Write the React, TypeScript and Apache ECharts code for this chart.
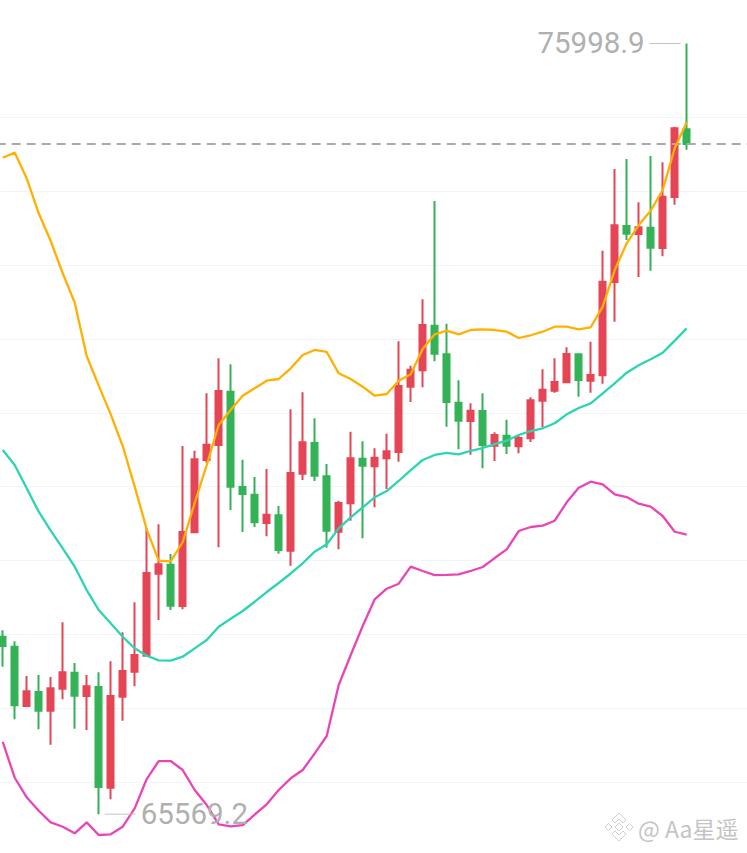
import React, { useEffect, useRef } from "react";
import * as echarts from "echarts";

// [open, close, low, high]
const candles: number[][] = [
  [67971,67845,67564,68057],[67835,67042,66853,67908],[67033,67232,67023,67438],[67222,66969,66717,67452],
  [66969,67272,66509,67425],[67267,67489,67123,68165],[67483,67172,66725,67615],[67168,67299,66708,67452],
  [67290,65936,65569.2,67489],[65927,67168,65770,67637],[67158,67506,66834,68030],[67497,67723,67299,68436],
  [67713,68832,67709,69437],[68823,68950,68196,69492],[68945,68390,68332,69090],[68386,69387,68341,70551],
  [69383,70371,69383,70488],[70362,70569,70325,71265],[70565,71296,69180,71738],[71286,70001,69685,71657],
  [69996,69902,69387,70366],[69892,69519,69455,70132],[69509,69622,69329,70240],[69613,69144,69094,69739],
  [69134,70186,68931,71048],[70176,70601,70091,71278],[70592,70149,70078,70926],[70141,69405,69175,70308],
  [69391,69780,69153,69811],[69776,70385,69540,70745],[70379,70285,69302,70615],[70277,70393,69722,70520],
  [70385,70480,69969,70718],[70470,71363,70339,71968],[71354,71584,71147,71638],[71576,72189,71346,72537],
  [72180,71800,71698,73867],[71792,71147,70813,72207],[71137,70894,70507,71440],[70890,71029,70434,71129],
  [71025,70565,70250,71265],[70555,70700,70348,70737],[70691,70555,70443,70907],[70547,70660,70452,70696],
  [70655,71170,70605,71210],[71164,71313,70804,71589],[71300,71417,71273,71738],[71413,71796,71408,71887],
  [71792,71445,71219,71792],[71435,71512,71273,71963],[71508,72775,71395,73195],[72771,73538,72234,74300],
  [73529,73425,73339,74436],[73420,73511,72839,73850],[73506,73235,72924,74476],[73231,73925,73119,74391],
  [73921,74851,73817,74873],[74838,74639,74561,75998.9],
];

const upper: number[] = [
  74453,74521,74174,73701,73326,72889,72491,71769,71368,70980,70551,70001,69424,68999,68991,69252,
  69780,70294,70836,71039,71232,71332,71435,71458,71603,71783,71851,71824,71535,71458,71354,71232,
  71255,71435,71522,71864,72063,72112,72063,72121,72131,72121,72098,72013,72050,72098,72166,72166,
  72131,72158,72437,72933,73295,73542,73736,74016,74580,74932,
];

const middle: number[] = [
  70497,70294,69979,69662,69405,69167,68918,68602,68332,68152,67970,67813,67713,67651,67646,67700,
  67813,67926,68106,68214,68318,68444,68575,68697,68826,68964,69121,69221,69437,69586,69722,69857,
  69942,70078,70226,70362,70430,70457,70439,70484,70524,70578,70623,70700,70754,70791,70859,70980,
  71066,71129,71265,71400,71543,71644,71725,71814,71977,72144,
];

const lower: number[] = [
  66549,66062,65797,65615,65458,65399,65310,65458,65287,65296,65399,65648,66044,66288,66288,66166,
  65896,65693,65431,65404,65422,65564,65702,65896,66054,66166,66392,66627,67317,67723,68115,68477,
  68620,68688,68918,68860,68805,68808,68815,68860,68914,69035,69153,69401,69455,69473,69540,69789,
  69987,70068,70033,69898,69861,69770,69730,69604,69391,69351,
];

const extremes: (number | string)[][] = [
  [57, 75998.9, "75998.9"],
  [8, 65569.2, "65569.2"],
];

const lastPrice = 74639;
const emptySlots = 5;
const categories: string[] = Array.from({ length: candles.length + emptySlots }, (_, i) => String(i));
const watermark = "@ Aa星遥";

const logoPath =
  "M14 0L21 7L18 10L14 6L10 10L7 7ZM14 28L21 21L18 18L14 22L10 18L7 21ZM0 14L3.5 10.5L7 14L3.5 17.5ZM28 14L24.5 10.5L21 14L24.5 17.5ZM14 10L18 14L14 18L10 14Z";

echarts.graphic.registerShape("logo", echarts.graphic.extendPath(logoPath, {}));

const LABEL_FONT = "Roboto, 'Noto Sans', sans-serif";
const PAD = 10; // the chart canvas overhangs the visible frame by this much on every side

function lineSeries(name: string, data: number[], color: string) {
  return {
    name,
    type: "line",
    data,
    showSymbol: false,
    smooth: false,
    silent: true,
    z: 5,
    lineStyle: { color, width: 2.3 },
  };
}

export default function App() {
  const ref = useRef<HTMLDivElement>(null);

  useEffect(() => {
    document.body.style.margin = "0";
    const chart = echarts.init(ref.current!, null, { renderer: "svg" });
    chart.setOption({
      animation: false,
      backgroundColor: "#ffffff",
      grid: { left: PAD - 3.3, top: PAD + 43.4, width: 756, height: 812.8 },
      xAxis: {
        type: "category",
        data: categories,
        show: false,
      },
      yAxis: {
        type: "value",
        min: 65000,
        max: 76000,
        interval: 1000,
        axisLine: { show: false },
        axisTick: { show: false },
        axisLabel: { show: false },
        splitLine: {
          show: true,
          showMinLine: false,
          showMaxLine: false,
          lineStyle: { color: "#f0f5fb", width: 1 },
        },
      },
      series: [
        {
          name: "K",
          type: "candlestick",
          data: candles,
          barWidth: 6,
          silent: true,
          itemStyle: {
            color: "#e64555",
            color0: "#34b257",
            borderColor: "#e64555",
            borderColor0: "#34b257",
            borderWidth: 2,
          },
          markLine: {
            silent: true,
            symbol: "none",
            label: { show: false },
            animation: false,
            lineStyle: { color: "#aaaaaa", type: [9, 6], width: 2 },
            data: [{ yAxis: lastPrice }],
          },
        },
        lineSeries("UP", upper, "#ffb000"),
        lineSeries("MB", middle, "#2dd4b4"),
        lineSeries("DN", lower, "#e845b8"),
        {
          name: "extremes",
          type: "custom",
          silent: true,
          z: 6,
          clip: false,
          data: extremes,
          encode: { x: 0, y: 1 },
          renderItem: (params: any, api: any) => {
            const idx = api.value(0);
            const p = api.coord([idx, api.value(1)]);
            const dir = idx > candles.length / 2 ? -1 : 1;
            const label = extremes[params.dataIndex][2] as string;
            const x1 = p[0] + dir * 6;
            const x2 = p[0] + dir * 37;
            return {
              type: "group",
              children: [
                {
                  type: "line",
                  shape: { x1, y1: p[1], x2, y2: p[1] },
                  style: { stroke: "#c4c4c4", lineWidth: 1 },
                },
                {
                  type: "text",
                  x: x2 + dir * 5,
                  y: p[1],
                  style: {
                    text: label,
                    fill: "#b0b0b0",
                    fontSize: 29.5,
                    fontFamily: LABEL_FONT,
                    align: dir < 0 ? "right" : "left",
                    verticalAlign: "middle",
                  },
                },
              ],
            };
          },
        },
      ],
      graphic: [
        {
          type: "logo",
          x: PAD + 605,
          y: PAD + 813,
          style: { fill: "none", stroke: "#cfcfcf", lineWidth: 1 },
          silent: true,
        },
        {
          type: "text",
          x: PAD + 638,
          y: PAD + 828,
          silent: true,
          style: {
            text: watermark,
            fill: "#c4c4c4",
            fontSize: 23,
            fontFamily: "'Noto Sans CJK SC', 'Noto Sans', sans-serif",
            align: "left",
            verticalAlign: "middle",
          },
        },
      ],
    });
    return () => chart.dispose();
  }, []);

  return (
    <div style={{ position: "relative", width: 747, height: 853, overflow: "hidden" }}>
      <div
        ref={ref}
        style={{ position: "absolute", left: -PAD, top: -PAD, width: 747 + 2 * PAD, height: 853 + 2 * PAD }}
      />
    </div>
  );
}
